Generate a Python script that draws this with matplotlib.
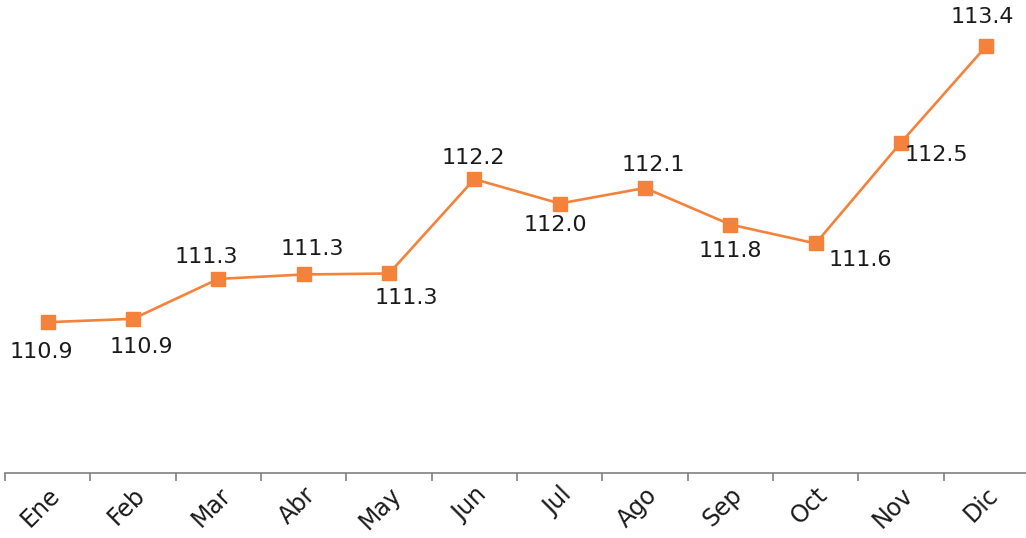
import matplotlib.pyplot as plt

# datos
meses = ['Ene', 'Feb', 'Mar', 'Abr', 'May', 'Jun', 'Jul', 'Ago', 'Sep', 'Oct', 'Nov', 'Dic']
valores = [110.91, 110.94, 111.30, 111.34, 111.349, 112.20, 111.98, 112.12, 111.79, 111.62, 112.53, 113.40]
# desplazamiento de etiquetas (pixeles)
dx = [-6, 8, -12, 9, 17, -1, -4, 8, 0, 45, 35, -4]
dy = [-30, -28, 22, 25, -25, 21, -21, 23, -26, -17, -12, 29]

plt.rcParams['font.family'] = ['DejaVu Sans']
fig = plt.figure(figsize=(10.26, 5.38), dpi=100)
ax = fig.add_axes([5 / 1026, 65 / 538, 1024 / 1026, 473 / 538])

color = '#F5823B'
x = list(range(len(meses)))
ax.plot(x, valores, color=color, linewidth=1.9, marker='s', markersize=9.5, zorder=3)

for i, v in enumerate(valores):
    ax.annotate(f'{v:.1f}', (i, v), xytext=(dx[i], dy[i]), textcoords='offset pixels',
                ha='center', va='center', fontsize=16, color='#1a1a1a')

ax.set_xlim(-0.5, 11.5)
ax.set_ylim(109.55, 113.815)
ax.set_yticks([])
for s in ['top', 'right', 'left']:
    ax.spines[s].set_visible(False)
ax.spines['bottom'].set_color('#808080')
ax.spines['bottom'].set_linewidth(1.2)

ax.set_xticks([i - 0.5 for i in range(13)])
ax.set_xticklabels([])
ax.set_xticks(x, minor=True)
ax.set_xticklabels(meses, minor=True, rotation=45, ha='right', va='top',
                   rotation_mode='anchor', fontsize=17, color='#1a1a1a')
ax.tick_params(axis='x', which='major', length=6, width=1.2, color='#808080')
ax.tick_params(axis='x', which='minor', length=0, pad=7)

fig.savefig('out.png', dpi=100)
